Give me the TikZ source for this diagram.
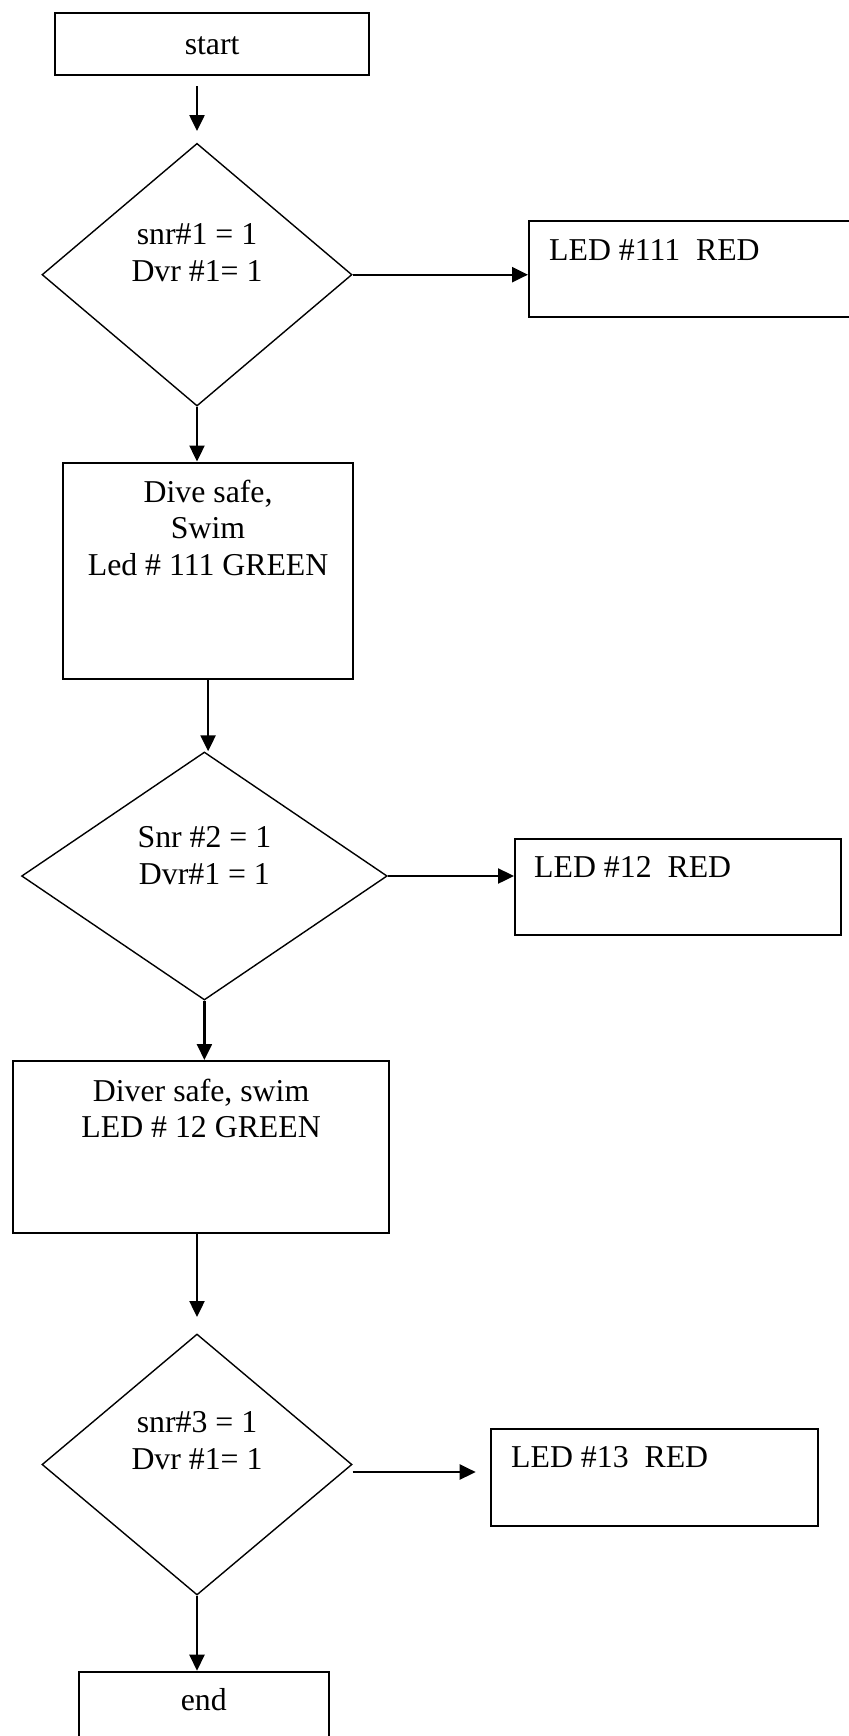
\documentclass[tikz,border=0pt]{standalone}
\usepackage{fontspec}
\setmainfont{Liberation Serif}
\usetikzlibrary{arrows.meta,positioning,shapes.geometric}

\begin{document}
\begin{tikzpicture}[
    x=1pt, y=-1pt,
    >={Triangle[length=16pt,width=15pt]},
    font=\fontsize{31.8pt}{36.6pt}\selectfont,
    stepbox/.style={draw,line width=2.2pt,inner sep=0pt,anchor=north west},
    decide/.style={draw,diamond,line width=1.4pt,inner sep=0pt},
    lbl/.style={inner sep=0pt,align=center},
    flow/.style={->,line width=2.4pt},
  ]
  \useasboundingbox (0,0) rectangle (848,1736);

  % --- shapes, top to bottom ---
  \node[stepbox,minimum width=314.5pt,minimum height=62.3pt] (start) at (53.5,11.7) {};
  \node[decide,minimum width=310pt,minimum height=262.7pt]   (d1) at (197,274.7) {};
  \node[stepbox,minimum width=332pt,minimum height=96pt]     (r1) at (528,220) {};
  \node[stepbox,minimum width=290pt,minimum height=216.5pt]  (b2) at (62,461.5) {};
  \node[decide,minimum width=365.6pt,minimum height=248pt]   (d2) at (204.4,876) {};
  \node[stepbox,minimum width=326pt,minimum height=96pt]     (r2) at (514,838) {};
  \node[stepbox,minimum width=376pt,minimum height=172pt]    (b3) at (12,1060) {};
  \node[decide,minimum width=310pt,minimum height=261pt]     (d3) at (197,1464.5) {};
  \node[stepbox,minimum width=327pt,minimum height=96.6pt]   (r3) at (489.5,1428) {};
  \node[stepbox,minimum width=250pt,minimum height=100pt]    (finish) at (77.7,1670.7) {};

  % --- texts ---
  \node[lbl,anchor=base] (startlbl) at ([shift={(0.3,10.6)}]start.center) {start};
  \node[lbl,anchor=north] (d1lbl) at ([shift={(0,-51.2)}]d1.center) {snr\#1 = 1\\Dvr \#1= 1};
  \node[lbl,anchor=base west] (r1lbl) at ([shift={(21,40)}]r1.north west) {LED \#111\ \ RED};
  \node[lbl,anchor=north] (b2lbl) at ([shift={(0,18)}]b2.north) {Dive safe,\\Swim\\Led \# 111 GREEN};
  \node[lbl,anchor=north] (d2lbl) at ([shift={(0,-49.5)}]d2.center) {Snr \#2 = 1\\Dvr\#1 = 1};
  \node[lbl,anchor=base west] (r2lbl) at ([shift={(20,39)}]r2.north west) {LED \#12\ \ RED};
  \node[lbl,anchor=north] (b3lbl) at ([shift={(0,18.5)}]b3.north) {Diver safe, swim\\LED \# 12 GREEN};
  \node[lbl,anchor=north] (d3lbl) at ([shift={(0,-53)}]d3.center) {snr\#3 = 1\\Dvr \#1= 1};
  \node[lbl,anchor=base west] (r3lbl) at ([shift={(21.5,39.5)}]r3.north west) {LED \#13\ \ RED};
  \node[lbl,anchor=base] (finishlbl) at ([shift={(0,40)}]finish.north) {end};

  % --- main flow ---
  \draw[flow,shorten <=10pt,shorten >=11.6pt] (start.south -| d1.north) -- (d1.north);
  \draw[flow] (d1.south) -- (d1.south |- b2.north);
  \draw[flow] (b2.south) -- (b2.south |- d2.north);
  \draw[flow] (d2.south) -- (d2.south |- b3.north);
  \draw[flow,shorten >=16.3pt] (b3.south -| d3.north) -- (d3.north);
  \draw[flow] (d3.south) -- (d3.south |- finish.north);

  % --- side branches ---
  \draw[flow] (d1.east) -- (d1.east -| r1.west);
  \draw[flow] (d2.east) -- (d2.east -| r2.west);
  \path ([shift={(0,7.5)}]d3.east) coordinate (d3out);
  \draw[flow,shorten >=13.8pt] (d3out) -- (d3out -| r3.west);

\end{tikzpicture}
\end{document}
